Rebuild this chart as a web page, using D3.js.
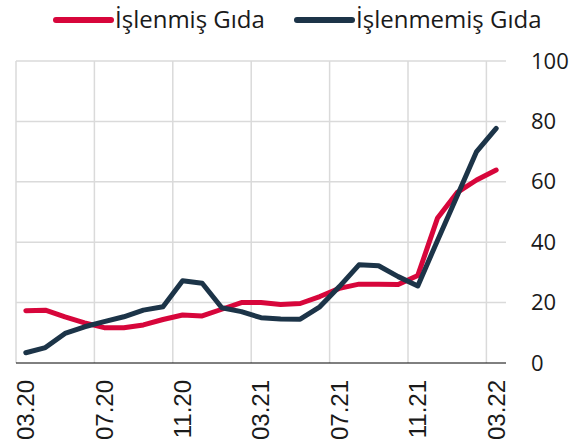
<!DOCTYPE html>
<html>
<head>
<meta charset="utf-8">
<script src="https://cdn.jsdelivr.net/npm/d3@7"></script>
<style>
  body { margin: 0; background: #fff; }
  text { font-family: "Open Sans", sans-serif; fill: #1a1a1a; }
</style>
</head>
<body>
<div id="chart"></div>
<script>
// aylar (03.20 - 03.22)
var months = ["03.20","04.20","05.20","06.20","07.20","08.20","09.20","10.20","11.20","12.20",
  "01.21","02.21","03.21","04.21","05.21","06.21","07.21","08.21","09.21","10.21","11.21","12.21",
  "01.22","02.22","03.22"];
var tickLabels = ["03.20","07.20","11.20","03.21","07.21","11.21","03.22"];
var yTicks = [0, 20, 40, 60, 80, 100];

var islenmis = [17.3, 17.5, 15.3, 13.3, 11.7, 11.7, 12.6, 14.4, 15.9, 15.6, 17.8, 20.0, 20.0,
  19.4, 19.7, 22.0, 24.7, 26.1, 26.1, 26.0, 29.0, 47.9, 56.4, 60.6, 63.9];
var islenmemis = [3.4, 5.1, 9.8, 12.0, 13.7, 15.3, 17.5, 18.6, 27.2, 26.4, 18.3, 17.0, 15.0,
  14.6, 14.5, 18.6, 25.3, 32.5, 32.2, 28.6, 25.5, 40.5, 55.2, 70.0, 77.7];

var series = [
  { name: "İşlenmiş Gıda", values: islenmis, color: "#d7063b" },
  { name: "İşlenmemiş Gıda", values: islenmemis, color: "#1c3448" }
];

var width = 583, height = 448;
var svg = d3.select("#chart").append("svg")
  .attr("width", width)
  .attr("height", height);

var x = d3.scaleBand().domain(months).range([16, 506]).padding(0);
var y = d3.scaleLinear().domain([0, 100]).range([363, 61]);

// yatay ızgara
svg.append("g").selectAll("line")
  .data(yTicks.filter(d => d > 0))
  .enter().append("line")
  .attr("x1", 16).attr("x2", 506)
  .attr("y1", d => y(d)).attr("y2", d => y(d))
  .attr("stroke", "#dadada").attr("stroke-width", 1.5);

// dikey ızgara (kategori sınırları)
svg.append("g").selectAll("line")
  .data(tickLabels)
  .enter().append("line")
  .attr("x1", d => x(d)).attr("x2", d => x(d))
  .attr("y1", y(100)).attr("y2", y(0))
  .attr("stroke", "#dadada").attr("stroke-width", 1.5);

// taban çizgisi
svg.append("line")
  .attr("x1", 16).attr("x2", 506)
  .attr("y1", y(0)).attr("y2", y(0))
  .attr("stroke", "#000").attr("stroke-width", 1);

// y ekseni (sağ)
var yAxis = svg.append("g")
  .attr("transform", "translate(506,0)")
  .call(d3.axisRight(y).tickValues(yTicks).tickSize(0).tickPadding(25));
yAxis.select(".domain").remove();
yAxis.selectAll("text").attr("font-size", 22).attr("fill", "#1a1a1a")
  .style("font-family", "'Open Sans', sans-serif");

// x ekseni etiketleri
var xAxis = svg.append("g")
  .attr("transform", "translate(0," + y(0) + ")")
  .call(d3.axisBottom(x).tickValues(tickLabels).tickSize(0));
xAxis.select(".domain").remove();
xAxis.selectAll("text")
  .attr("font-size", 24)
  .attr("fill", "#1a1a1a")
  .style("font-family", "'Liberation Sans', Arial, sans-serif")
  .attr("transform", "rotate(-90)")
  .attr("text-anchor", "end")
  .attr("dy", "0.35em")
  .attr("x", -17)
  .attr("y", 0);

// çizgiler
var line = d3.line()
  .x((d, i) => x(months[i]) + x.bandwidth() / 2)
  .y(d => y(d));

svg.selectAll(".seri")
  .data(series)
  .enter().append("path")
  .attr("class", "seri")
  .attr("d", d => line(d.values))
  .attr("fill", "none")
  .attr("stroke", d => d.color)
  .attr("stroke-width", 5)
  .attr("stroke-linejoin", "round")
  .attr("stroke-linecap", "round");

// lejant
var legendX = [56, 297];
var leg = svg.selectAll(".leg")
  .data(series)
  .enter().append("g")
  .attr("transform", (d, i) => "translate(" + legendX[i] + ",20)");
leg.append("line")
  .attr("x1", 0).attr("x2", 55)
  .attr("stroke", d => d.color)
  .attr("stroke-width", 6)
  .attr("stroke-linecap", "round");
leg.append("text")
  .attr("x", 59)
  .attr("dy", "0.35em")
  .attr("font-size", 24)
  .text(d => d.name);
</script>
</body>
</html>
